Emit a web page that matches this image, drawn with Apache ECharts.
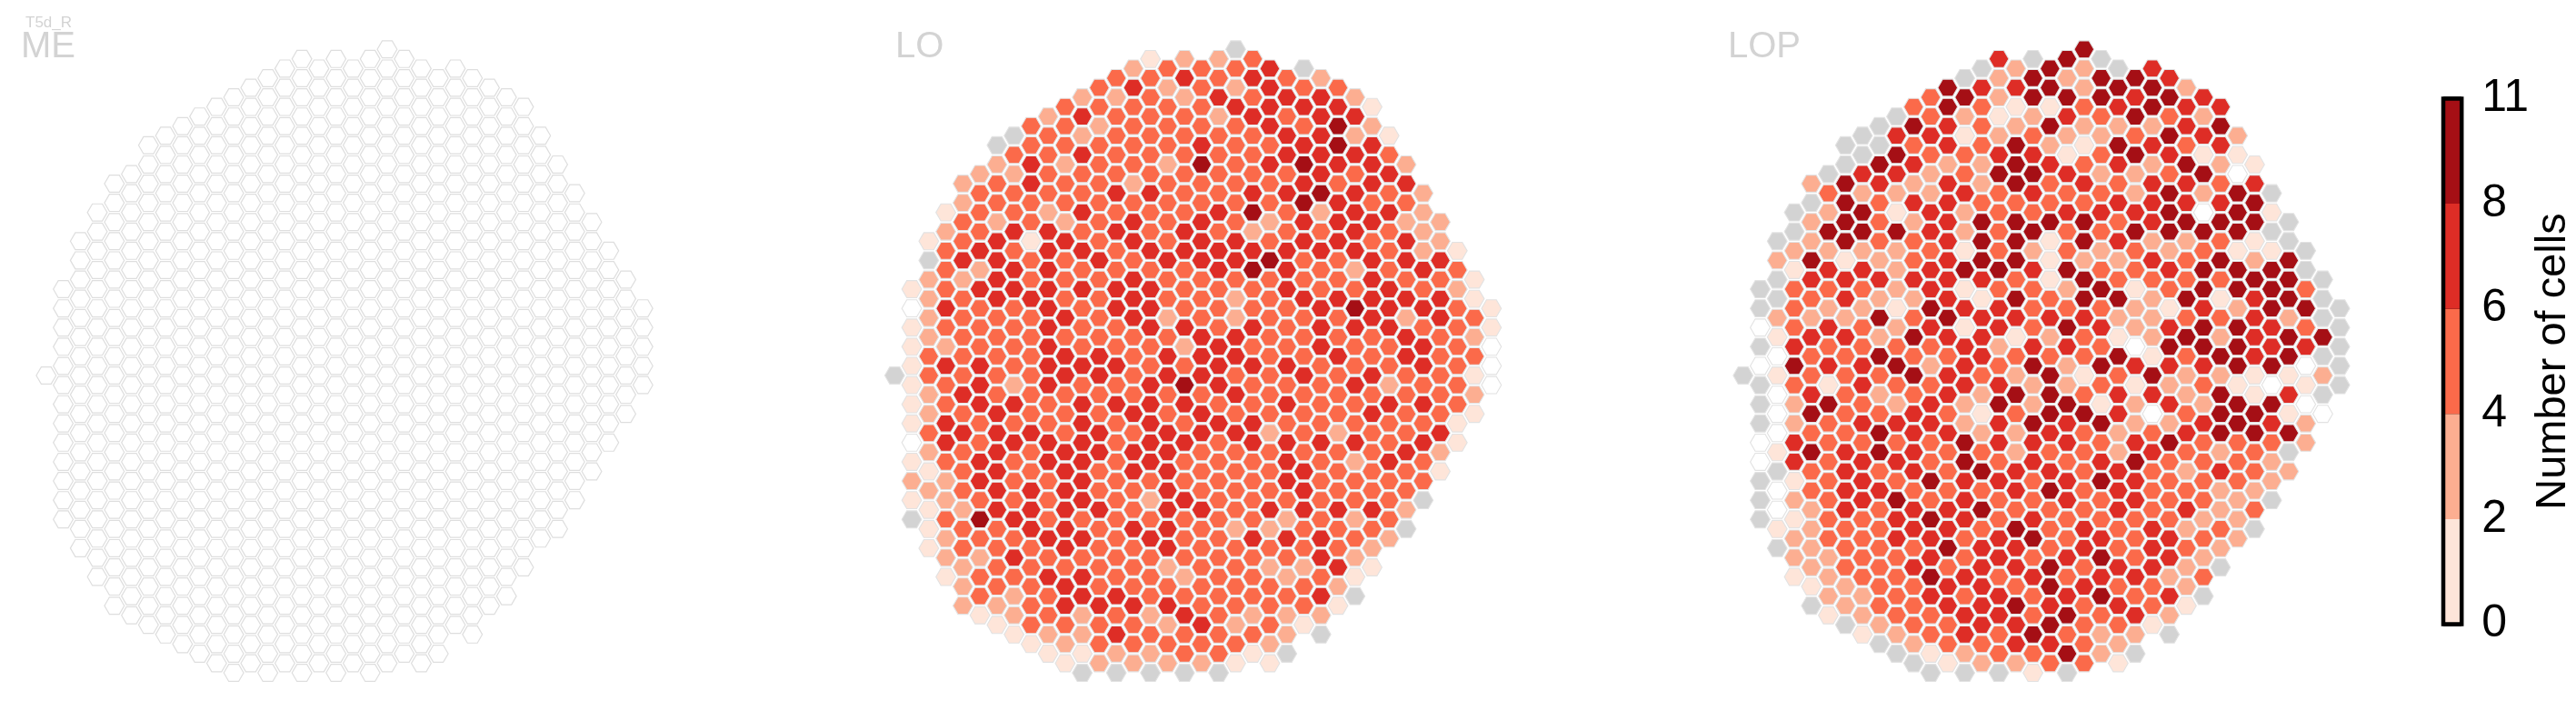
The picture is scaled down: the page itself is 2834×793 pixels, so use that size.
<!DOCTYPE html>
<html><head><meta charset="utf-8">
<style>html,body{margin:0;padding:0;background:#fff}#c{width:2834px;height:793px}</style>
<script src="https://cdn.jsdelivr.net/npm/echarts@6/dist/echarts.min.js"></script>
</head><body><div id="c"></div>
<script>
// Hex lattice: rows are half-row levels r=-34..31, each with 18 cells (even r: columns 0,2,..; odd r: 1,3,..)
// g=no data, 0=zero, 1..5 = colour-bar bins
const LO_ROWS = [
"..........g.......",".......1223.......",".......23334g.....","......3343432.....","......34232433....",
".....223243442....",".....3333344441...","....2433324344....","....33233334352...","...g32333334421...",
"...g33333433454...","...334333334443...","...2423325345442..","..2233333333434...","..23433233334344..",
"..33334433445432..","..23333333335433..",".133243334532442..","..323234343244422.",".234434343233432..",
".1341434344344342.",".3434434444444321.",".g443343444533444.",".3244333345432343.",".22433343333334331",
"13444444333433432.",".23443343323444441","043343443333454431",".23334342323334243","133343344343444331",
".23333333443333432","123343332433433430",".33334434443343433","144344433444333430","g33334434433434331",
"134243345433342330",".24333333343333332","13443444433433443.",".23433343433334331","14333434344333331.",
".3444343444232334.","04344434434444341.",".2343444433333342.","1343443433343243..",".1343434433343331.",
"2243343333343333..",".234443343334333..","123334324333333g..",".124444344344442..","g35433333332323...",
".13344344322333g..",".23344343344432...",".13334334333332...",".2243333333342....","..2333332332241...",
".1334433233231....","..233433333332....","..32344333334g....","..223444433331....","..12323243222.....",
"...1333324231.....","...122433332g.....","....12333332......","....1122331g......",".....1222211......",
".....ggggg........"];
const LOP_ROWS = [
"..........5.......",".......4g5g.......",".......g252g4.....","......g252554.....","......54452552....",
".....352555454....",".....3531134544...","....g321243532....","....g5432522245...","...g44123223542...",
"...gg3435215434...","...g53344135411...","...g542254342521..","..g442355422350...","..25424253434434..",
"..3222434332525g..","..g5344333344445..",".g25142334445051..","..25324555534555g.",".g5554235335555g..",
".g25334551542231g.",".222231323232311g.",".2512345512243525.",".144245545334555g.",".g444444315333355g",
"g3332413325135553.",".g342241535525145g","g3221544333214255g",".2225354444223342g","03432414354245543g",
".14425441231252455","g4333342443055544g",".0335334333513545g","05445243525444550g","g13335432513522112",
"g3143344223123101g",".0432342553442514g","g2532425251242550.",".05334313554035510","g2344424545224542.",
".0335442243234555.","04333354443453332.",".154543323324323g.",
"0434435343453332..",".g343435443432432.",
"g134354434543332..",".034433345343322..","g23453433434332g..",".024344533343423..","g13345434333322...",
".12334435343423g..",".23344345343432...",".g2333544343432...",".2233434345342....","..233434453442g...",
".1233543434423....","..123344354332....","..22343434534g....","..g23344543431....","..12334435342.....",
"...g233445331.....","...123435322g.....","....g2334432......","....g123352g......",".....g122331......",
".....ggg1g........"];
const ME_ROWS = LO_ROWS.map(s => s.replace(/[^.]/g, 'n'));
const panelNames = ["ME", "LO", "LOP"];
const panelRows = [ME_ROWS, LO_ROWS, LOP_ROWS];
const binColors = {n:"#ffffff", g:"#d3d3d3", 0:"#ffffff", 1:"#fee5d9", 2:"#fcae91", 3:"#fb6a4a", 4:"#de2d26", 5:"#a50f15"};
const colorbarBins = [1, 2, 3, 4, 5];
const colorbarTicks = ["0", "2", "4", "6", "8", "11"];
const colorbarTitle = "Number of cells";
const cellType = "T5d_R";

const FIRST_R = -34, PX = 18.757, PY = 10.55, X0 = [50.8, 984.3, 1917.7], Y0 = 413;
const font = "Liberation Sans";
function cells(rows){
  const out = [];
  rows.forEach((s, k) => { const r = FIRST_R + k, odd = Math.abs(r) % 2;
    [...s].forEach((ch, i) => { if (ch !== '.') out.push([2*i + odd, r, ch]); });
  });
  return out;
}
const grids = [], xAxes = [], yAxes = [], series = [];
panelRows.forEach((rows, p) => {
  grids.push({left: X0[p] - 2*PX, width: PX*39, top: Y0 - 38*PY, height: PY*72});
  xAxes.push({gridIndex: p, type: 'value', min: -2, max: 37, show: false});
  yAxes.push({gridIndex: p, type: 'value', min: -38, max: 34, inverse: true, show: false});
  series.push({
    type: 'custom', xAxisIndex: p, yAxisIndex: p, coordinateSystem: 'cartesian2d', silent: true, animation: false,
    clip: false, data: cells(rows),
    renderItem(params, api){
      const c = api.coord([api.value(0), api.value(1)]);
      const ch = rows[api.value(1) - FIRST_R][Math.floor(api.value(0)/2)];
      const R = api.size([1, 0])[0] * 0.58, h = R * Math.sqrt(3) / 2;
      const pts = [[c[0]-R,c[1]],[c[0]-R/2,c[1]-h],[c[0]+R/2,c[1]-h],[c[0]+R,c[1]],[c[0]+R/2,c[1]+h],[c[0]-R/2,c[1]+h]];
      return {type: 'polygon', shape: {points: pts},
        style: {fill: binColors[ch], stroke: ch === 'n' ? '#dedede' : '#e2e2e2', lineWidth: ch === 'n' ? 1.2 : 1.1}};
    }
  });
});
// colour bar
grids.push({left: 2688, width: 30, top: 108.5, height: 578});
xAxes.push({gridIndex: 3, type: 'value', min: 0, max: 1, show: false});
yAxes.push({gridIndex: 3, type: 'value', min: 0, max: 5, interval: 1, position: 'right',
  axisLine: {show: false}, splitLine: {show: false},
  axisTick: {show: true, length: 20, lineStyle: {color: '#000', width: 4.5}},
  axisLabel: {show: true, fontFamily: font, fontSize: 50, color: '#000', margin: 22, formatter: v => colorbarTicks[v]},
  name: colorbarTitle, nameLocation: 'middle', nameRotate: 90, nameGap: 61,
  nameTextStyle: {fontFamily: font, fontSize: 47, color: '#000'}});
series.push({type: 'custom', xAxisIndex: 3, yAxisIndex: 3, silent: true, animation: false,
  data: colorbarBins.map((b, i) => [i, b]),
  renderItem(params, api){
    const a = api.coord([0, api.value(0)]), b = api.coord([1, api.value(0) + 1]);
    return {type: 'rect', shape: {x: a[0], y: b[1], width: b[0]-a[0], height: a[1]-b[1]}, style: {fill: binColors[api.value(1)]}};
  }});
series.push({type: 'custom', xAxisIndex: 3, yAxisIndex: 3, silent: true, animation: false, z: 5, data: [[0]],
  renderItem(params, api){
    const a = api.coord([0, 0]), b = api.coord([1, 5]);
    return {type: 'rect', shape: {x: a[0], y: b[1], width: b[0]-a[0], height: a[1]-b[1]}, style: {fill: 'none', stroke: '#000', lineWidth: 4.5}};
  }});
const labelX = [18, 980, 1896];
const titles = panelNames.map((t, i) => ({text: t, left: labelX[i], top: 27,
  textStyle: {fontFamily: font, fontWeight: 'normal', fontSize: 40, color: '#d3d3d3'}}));
titles.push({text: cellType, left: 23, top: 12, textStyle: {fontFamily: font, fontWeight: 'normal', fontSize: 17, color: '#d3d3d3'}});
const chart = echarts.init(document.getElementById('c'));
chart.setOption({animation: false, backgroundColor: '#fff', title: titles, grid: grids, xAxis: xAxes, yAxis: yAxes, series});
</script></body></html>
